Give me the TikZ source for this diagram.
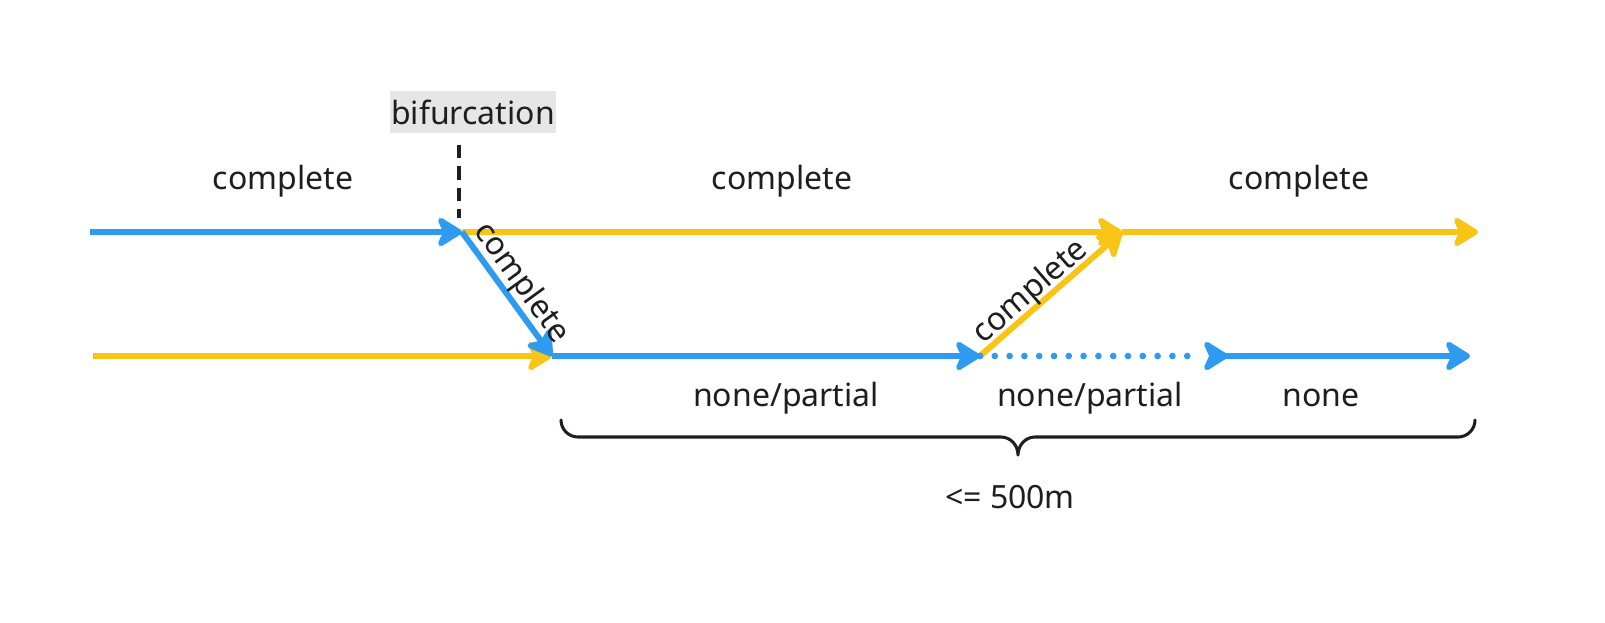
\documentclass[tikz,border=0pt]{standalone}
\usepackage{fontspec}
\setmainfont{Noto Sans}
\usetikzlibrary{arrows.meta}
\definecolor{cblue}{RGB}{47,155,240}
\definecolor{cyellow}{RGB}{248,197,22}
\definecolor{cgray}{RGB}{230,230,230}
\definecolor{cink}{RGB}{30,30,30}
\tikzset{
  tip/.tip={Stealth[length=22pt,width=27pt,inset=6pt,round]},
  track/.style={line width=4.5pt,-tip},
  bluetrack/.style={track,draw=cblue,fill=cblue},
  yellowtrack/.style={track,draw=cyellow,fill=cyellow},
  lbl/.style={font=\fontsize{24}{28}\selectfont,text=cink,inner sep=0pt},
}
\begin{document}
\begin{tikzpicture}[x=0.75pt,y=-0.75pt]
\fill[white] (0,0) rectangle (1605,622);
\useasboundingbox (0,0) rectangle (1605,622);
% coordinates
\coordinate (a) at (90,232);
\coordinate (b) at (462,232);
\coordinate (c) at (1122,232);
\coordinate (d) at (1478,232);
\coordinate (e) at (93,356);
\coordinate (f) at (552,356);
\coordinate (g) at (980,356);
\coordinate (h) at (1228,356);
\coordinate (i) at (1470,356);
% bifurcation label and dashed marker
\node[lbl,fill=cgray,minimum width=124pt,minimum height=32pt] (bif) at (473,112) {bifurcation};
\coordinate (bifstart) at (459,145);
\coordinate (bifend) at (459,218);
\draw[cink,line width=2.3pt,dash pattern=on 10pt off 6pt] (bifstart) -- (bifend);
% yellow tracks
\draw[yellowtrack] (b) -- (c);
\draw[yellowtrack] (c) -- (d);
\draw[yellowtrack] (e) -- (f);
\draw[yellowtrack] (g) -- (c);
% blue tracks
\draw[bluetrack] (a) -- (b);
\draw[bluetrack] (b) -- (f);
\draw[bluetrack] (f) -- (g);
\draw[cblue,line width=5pt,line cap=round,dash pattern=on 0pt off 11.1pt,shorten >=22pt] (g) -- (h);
\draw[bluetrack,shorten <=210pt] (g) -- (h);
\draw[bluetrack] (h) -- (i);
% labels
\node[lbl] (l1) at (283,181) {complete};
\node[lbl] (l2) at (782,181) {complete};
\node[lbl] (l3) at (1299,181) {complete};
\node[lbl,rotate=-54] (l4) at (521,283) {complete};
\node[lbl,rotate=41] (l5) at (1031,292) {complete};
\node[lbl] (l6) at (786,398) {none/partial};
\node[lbl] (l7) at (1090,398) {none/partial};
\node[lbl] (l8) at (1321,398) {none};
% brace
\coordinate (br1) at (561,420);
\coordinate (br2) at (1018,455);
\coordinate (br3) at (1475,420);
\draw[cink,line width=2.3pt,line cap=round,line join=round]
  (br1) to[out=-90,in=180] (578,437) -- (1001,437) to[out=0,in=90] (br2)
  to[out=90,in=180] (1035,437) -- (1458,437) to[out=0,in=-90] (br3);
\node[lbl] (l9) at (1010,497) {<= 500m};
\end{tikzpicture}
\end{document}
